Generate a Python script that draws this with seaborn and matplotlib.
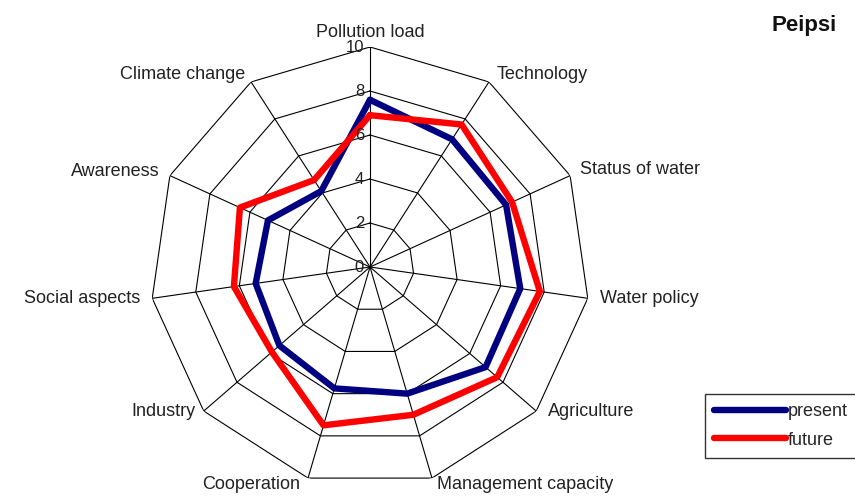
import numpy as np
import pandas as pd
import matplotlib
matplotlib.use("Agg")
import matplotlib.pyplot as plt
import seaborn as sns

categories = ["Pollution load", "Technology", "Status of water", "Water policy",
              "Agriculture", "Management capacity", "Cooperation", "Industry",
              "Social aspects", "Awareness", "Climate change"]
present = [7.6, 6.9, 6.8, 6.9, 6.95, 6.0, 5.75, 5.45, 5.25, 5.1, 4.1]
future = [6.9, 7.7, 7.1, 7.8, 7.65, 7.0, 7.5, 5.9, 6.25, 6.5, 4.7]
levels = [0, 2, 4, 6, 8, 10]
series_names = ["present", "future"]
colors = {"present": "#000080", "future": "#ff0000"}

# label offsets (pixels) from the outer vertex + alignment
label_pos = [(0, 6, "center", "bottom"), (8, 7, "left", "center"),
             (10, 6, "left", "center"), (12, 0, "left", "center"),
             (12, 0, "left", "center"), (5, -6, "left", "center"),
             (-8, -6, "right", "center"), (-8, 0, "right", "center"),
             (-12, 0, "right", "center"), (-10, 4, "right", "center"),
             (-6, 7, "right", "center")]

sns.set_theme(style="white")
plt.rcParams["font.family"] = ["Liberation Sans", "DejaVu Sans"]

n = len(categories)
theta = np.linspace(0, 2 * np.pi, n, endpoint=False)
theta_c = np.append(theta, 2 * np.pi)

rows = []
for name, vals in zip(series_names, [present, future]):
    vv = list(vals) + [vals[0]]
    for t, v in zip(theta_c, vv):
        rows.append({"theta": t, "value": v, "series": name})
df = pd.DataFrame(rows)

fig = plt.figure(figsize=(8.55, 4.99), dpi=100)
ax = fig.add_axes([150 / 855, 12 / 499, 440 / 855, 440 / 499], projection="polar")
ax.set_theta_offset(np.pi / 2)
ax.set_theta_direction(-1)

# polygon grid
for lv in levels[1:]:
    ax.plot(theta_c, [lv] * (n + 1), color="black", lw=0.8, zorder=1)
for t in theta:
    ax.plot([t, t], [0, levels[-1]], color="black", lw=0.8, zorder=1)

sns.lineplot(data=df, x="theta", y="value", hue="series", palette=colors,
             sort=False, estimator=None, linewidth=4.6, legend=False, ax=ax,
             zorder=3)

ax.set_ylim(0, 10)
ax.grid(False)
ax.spines["polar"].set_visible(False)
ax.set_xticks([])
ax.set_yticks([])
ax.set_xlabel("")
ax.set_ylabel("")

for lv in levels:
    ax.annotate(str(lv), (0, lv), xytext=(-6, 0), textcoords="offset pixels",
                ha="right", va="center", fontsize=12, color="#222222")

for t, lab, (dx, dy, ha, va) in zip(theta, categories, label_pos):
    ax.annotate(lab, (t, 10), xytext=(dx, dy), textcoords="offset pixels",
                ha=ha, va=va, fontsize=13, color="#222222", annotation_clip=False)

fig.text(771 / 855, 1 - 26 / 499, "Peipsi", fontsize=16, fontweight="bold",
         ha="left", va="center", color="#111111")

handles = [plt.Line2D([], [], color=colors[s], lw=4.6) for s in series_names]
leg = fig.legend(handles, series_names, loc="upper left",
                 bbox_to_anchor=(705 / 855, 1 - 394 / 499), fontsize=13,
                 handlelength=4.0, handletextpad=0.1, labelspacing=0.65,
                 borderaxespad=0, frameon=True, fancybox=False,
                 borderpad=0.5)
leg.get_frame().set_edgecolor("black")
leg.get_frame().set_linewidth(1.0)

fig.savefig("out.png", dpi=100)
